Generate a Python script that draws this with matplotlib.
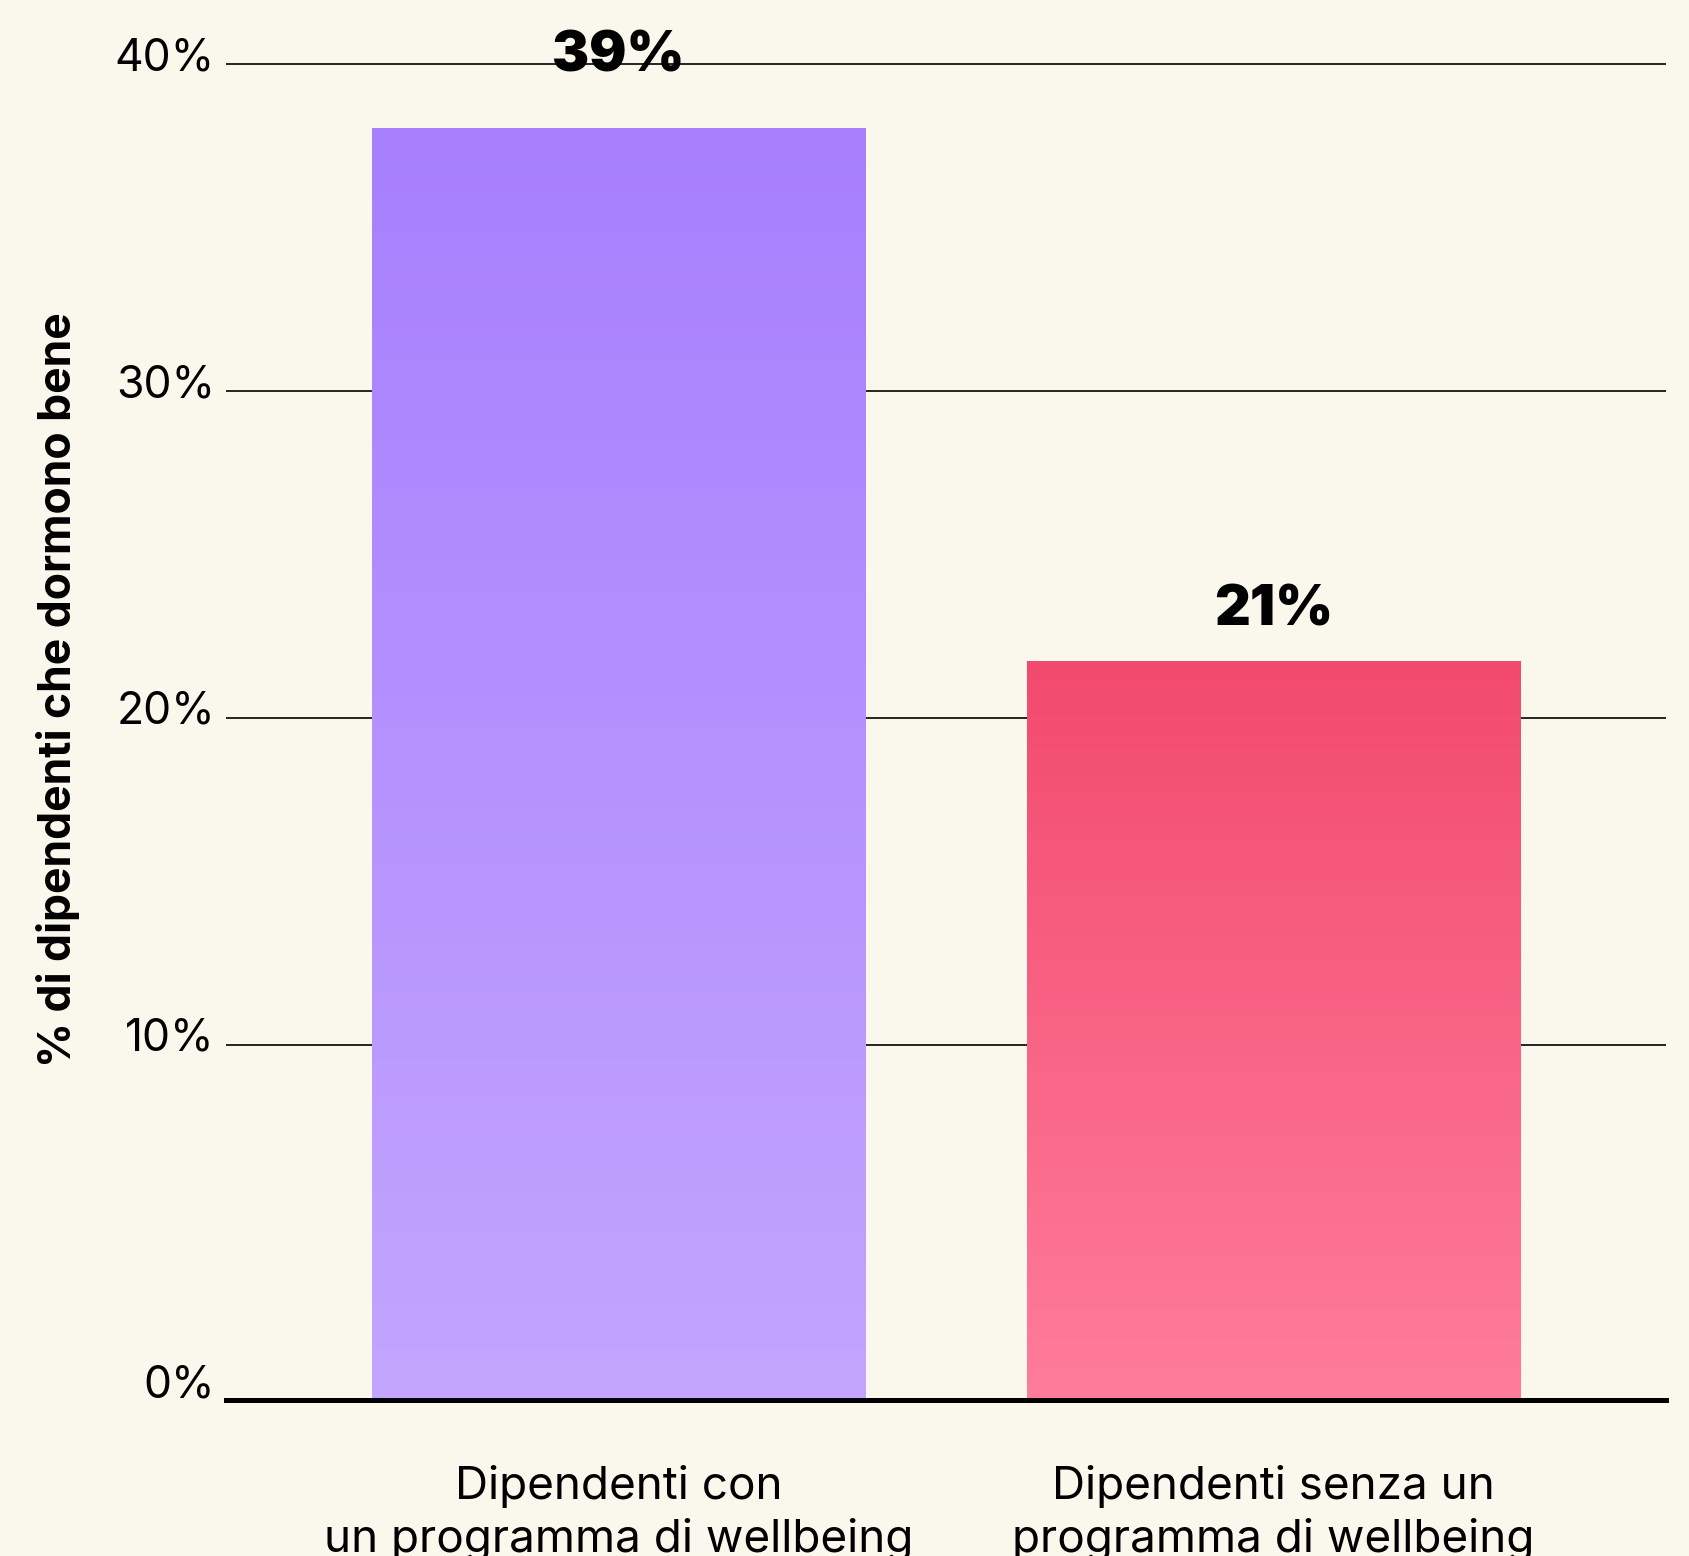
import numpy as np
import matplotlib
matplotlib.use("Agg")
import matplotlib.pyplot as plt
from matplotlib.colors import LinearSegmentedColormap
import matplotlib.transforms as mtransforms

categories = ["Dipendenti con\nun programma di wellbeing", "Dipendenti senza un\nprogramma di wellbeing"]
values = [38.05, 21.75]
value_labels = ["39%", "21%"]
yticks = [10, 20, 30, 40]
ytick_labels = ["10%", "20%", "30%", "40%"]
ylabel = "% di dipendenti che dormono bene"

bg = "#faf8ed"
top_colors = ["#a77ffd", "#f24a6e"]
bot_colors = ["#c3a5fe", "#ff7c9b"]
label_offsets_px = [56, 35]

W, H = 1689, 1556
PT = 0.72  # points per pixel at dpi 100
fig = plt.figure(figsize=(W / 100, H / 100), dpi=100, facecolor=bg)
ax = fig.add_axes([226 / W, 1 - 1400 / H, (1666 - 226) / W, 1400 / H])
ax.set_facecolor(bg)

base = -0.86
x = np.arange(len(values))
width = 0.754
FONT = ["Inter", "DejaVu Sans"]

for i, v in enumerate(values):
    bars = ax.bar(x[i], v - base, bottom=base, width=width, color="none", zorder=3)
    patch = bars[0]
    cmap = LinearSegmentedColormap.from_list("g%d" % i, [bot_colors[i], top_colors[i]])
    grad = np.linspace(0, 1, 256).reshape(-1, 1)
    im = ax.imshow(grad, cmap=cmap, aspect="auto", origin="lower",
                   extent=[x[i] - width / 2, x[i] + width / 2, base, v], zorder=2)
    im.set_clip_path(patch)
    ax.annotate(value_labels[i], xy=(x[i], v), xytext=(0, label_offsets_px[i] * PT),
                textcoords="offset points", ha="center", va="baseline",
                fontsize=40, fontweight="black", family=FONT,
                color="black", zorder=5, annotation_clip=False)

ax.set_xlim(-0.6, 1.6)
ax.set_ylim(base, 41.96)

for t in yticks:
    ax.axhline(t, color="black", lw=1.2, zorder=1)
ax.axhline(base, color="black", lw=5 * PT, zorder=4, clip_on=False)

for sp in ax.spines.values():
    sp.set_visible(False)
ax.set_xticks([])
ax.set_yticks([])

tick_offsets = [2, -6, -6, -6, -6]
for t, lab, o in zip([base] + yticks, ["0%"] + ytick_labels, tick_offsets):
    off = mtransforms.offset_copy(ax.transData, fig=fig, x=0, y=o * PT, units="points")
    blend = mtransforms.blended_transform_factory(ax.transAxes, off)
    ax.text(-11 / 1440, t, lab, transform=blend, ha="right", va="baseline",
            fontsize=32, family=FONT, color="black")

cat_tr = mtransforms.blended_transform_factory(ax.transData, fig.transFigure)
for i, c in enumerate(categories):
    ax.text(x[i], 1 - 1513 / H, c, transform=cat_tr, ha="center", va="center",
            fontsize=33, family=FONT, linespacing=1.28, color="black")

fig.text(58 / W, 1 - 690 / H, ylabel, rotation=90, ha="center", va="center",
         fontsize=32, fontweight="bold", family=FONT, color="black")

fig.savefig("out.png", dpi=100, facecolor=bg)
